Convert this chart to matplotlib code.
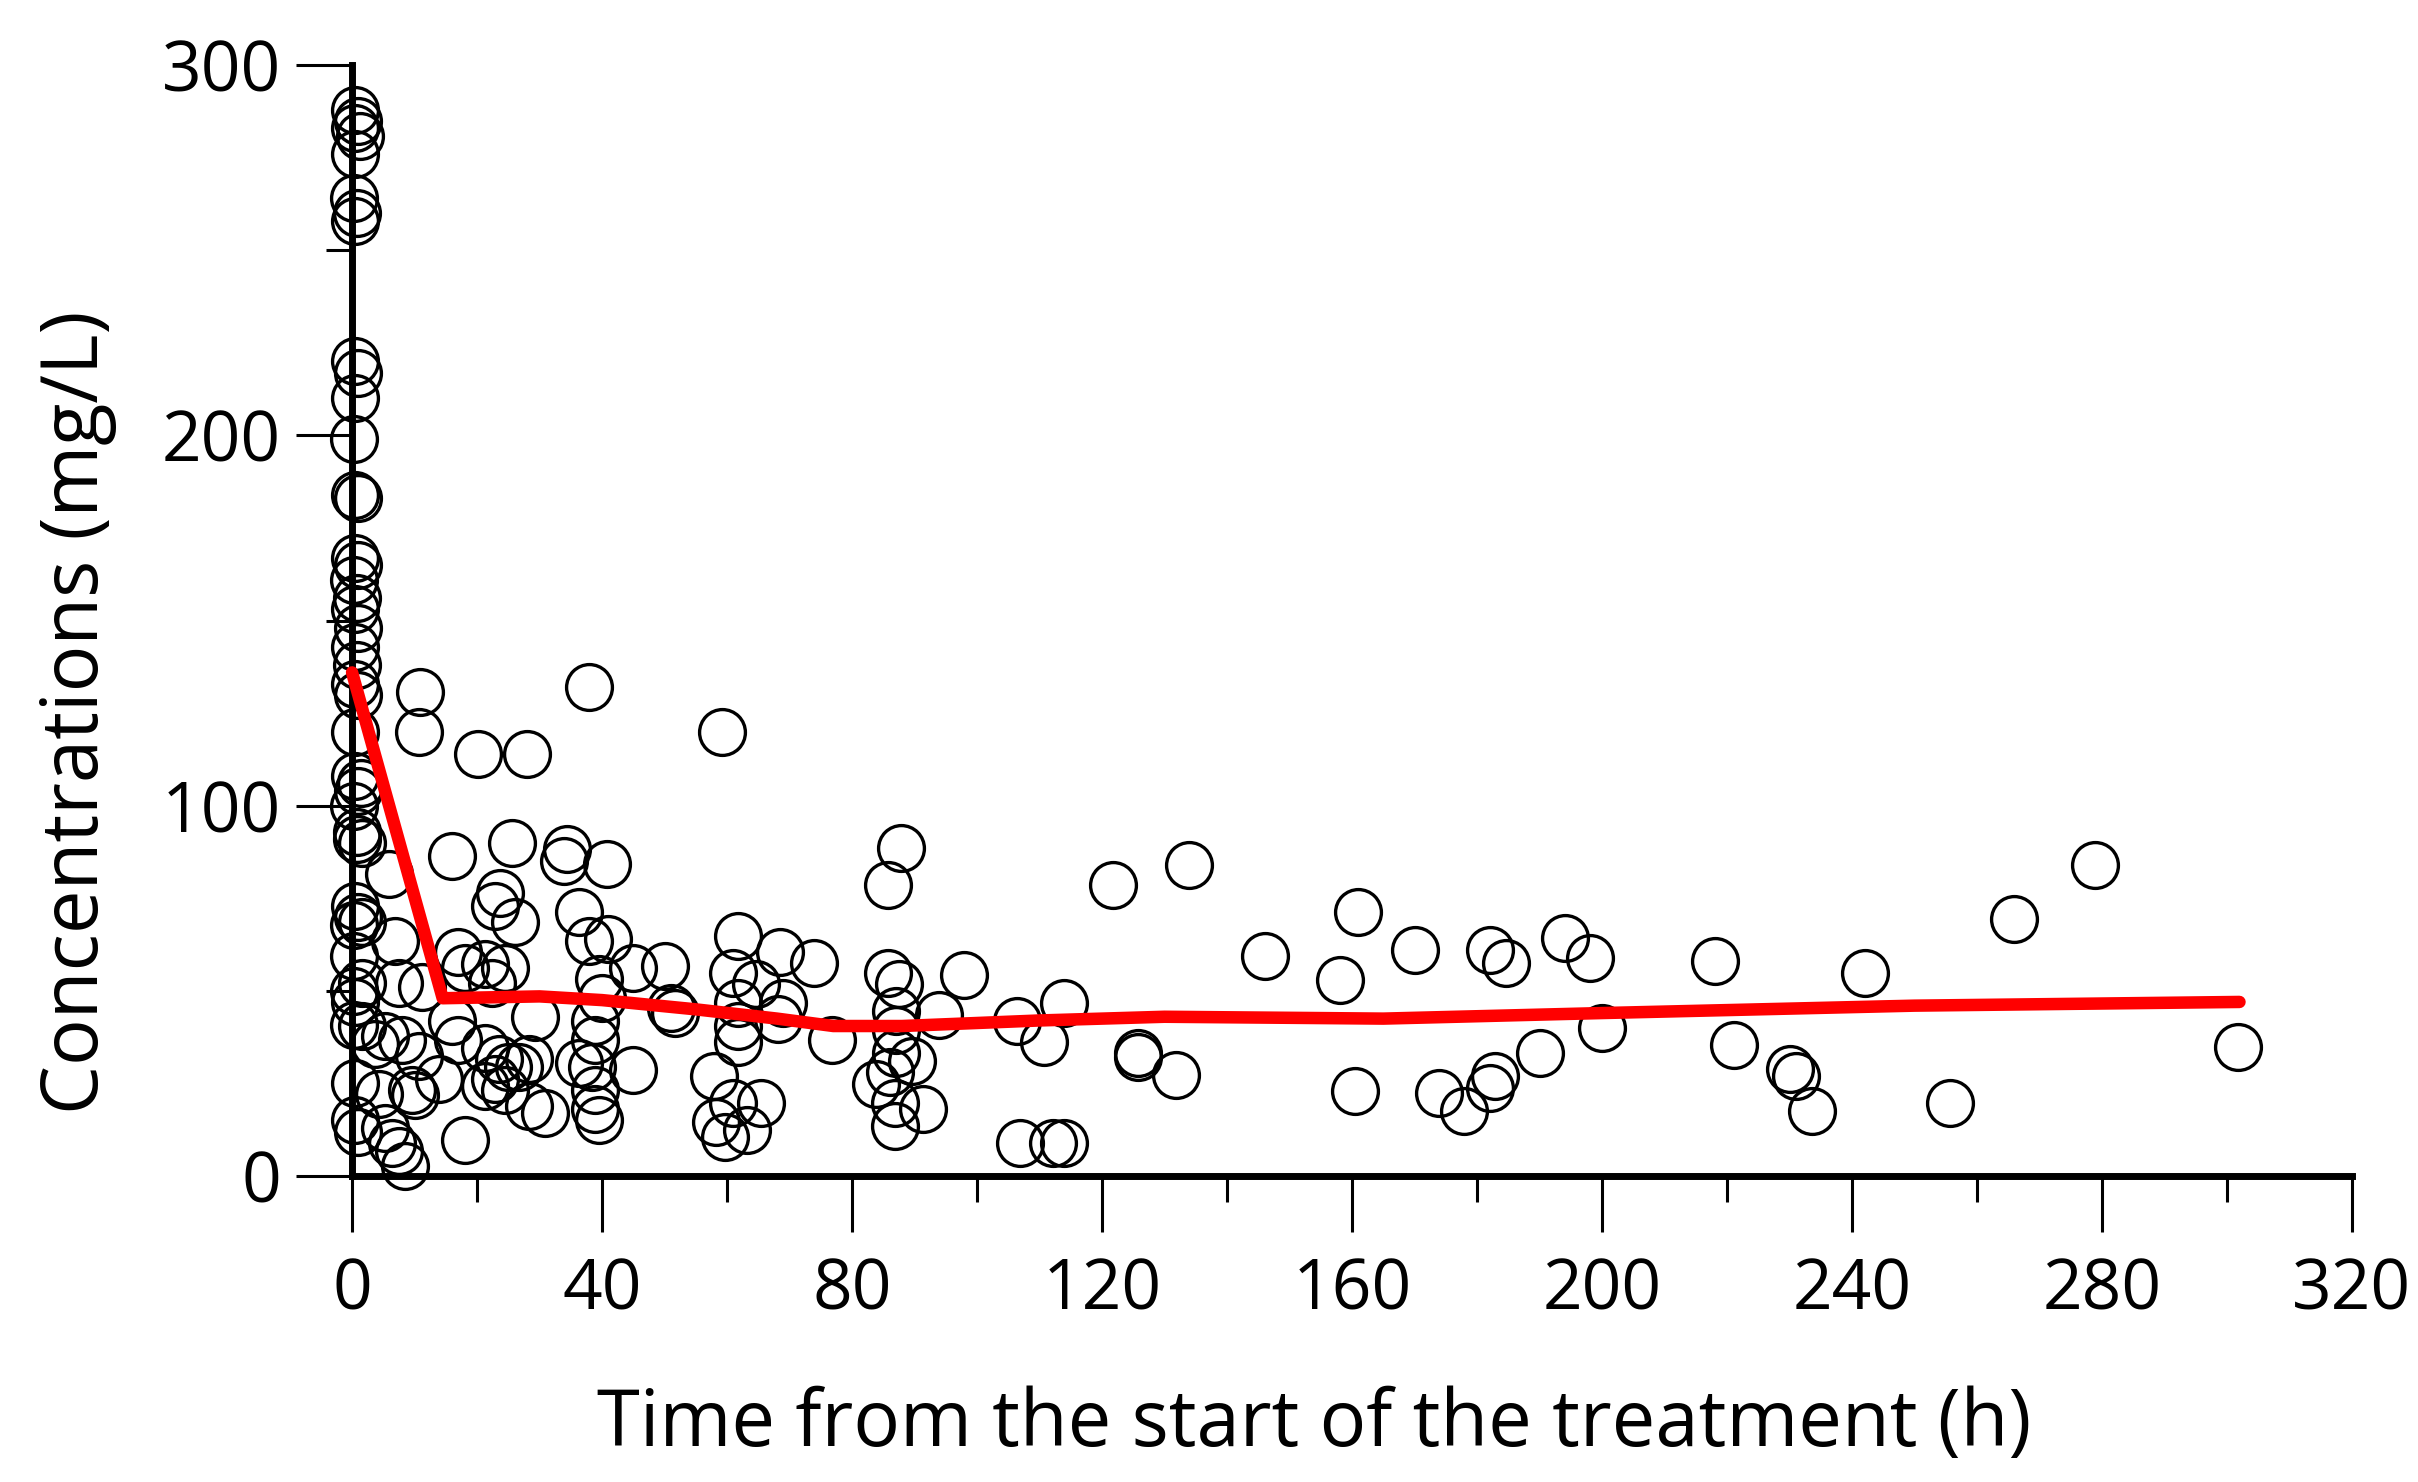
import numpy as np
import matplotlib.pyplot as plt
from matplotlib.ticker import MultipleLocator

plt.rcParams['font.family'] = ['Open Sans', 'DejaVu Sans']

# observed concentrations (time in h, concentration in mg/L)
time_h = [
    0.5, 1.0, 0.5, 1.2, 0.5, 0.3, 0.8, 0.5,
    0.5, 1.0, 0.5, 0.3, 0.5, 1.0,
    0.5, 1.0, 0.3, 0.8, 0.5, 1.0, 0.5, 0.8, 0.5, 1.0,
    0.5, 0.5, 1.5, 1.0, 0.3, 0.8, 0.8, 1.6,
    0.5, 1.0, 1.6, 0.3, 0.3, 1.6, 0.3, 0.5, 0.3, 1.6, 0.5, 0.5, 1.0,
    5.9, 6.9, 7.5, 11.2, 5.3, 8.0, 10.1, 3.7, 4.3, 5.3, 6.4, 7.5, 8.5, 18.1, 10.7, 13.9, 9.6,
    10.9, 10.7, 20.2, 28.0, 37.9, 59.2,
    16.0, 25.6, 34.4, 33.9, 40.8, 36.3, 23.7, 22.9, 26.0, 37.9, 41.0, 45.0, 50.0,
    17.0, 18.0, 21.3, 24.5, 22.4, 39.5, 40.0,
    16.0, 17.0, 21.3, 23.5, 25.0, 22.9, 21.3, 24.5, 26.7, 28.3, 29.3,
    38.9, 38.9, 38.4, 36.3, 38.9, 38.9, 39.5, 30.9, 28.3,
    45.0, 51.1, 51.7,
    61.8, 68.5, 73.9, 61.0, 64.6, 69.0, 61.8, 61.8, 61.8, 68.2, 76.8,
    57.9, 61.0, 65.4, 63.2, 59.6, 58.2,
    87.9, 85.7, 121.8, 133.9, 146.0,
    85.7, 87.5, 97.9, 93.9, 87.1, 87.1, 87.1, 89.6, 86.0, 83.9, 86.8, 91.4, 86.8,
    106.4, 113.9, 110.7, 125.7, 125.7, 131.8,
    106.8, 112.1, 113.9,
    160.9, 158.0, 170.0, 182.0, 184.6, 194.1, 198.1, 218.1, 242.1, 200.0,
    190.0, 182.9, 182.1, 177.9, 173.9, 160.5, 221.1, 230.0, 231.1, 233.6,
    265.9, 278.9, 255.6, 301.8,
]
conc = [
    288, 285, 283, 281, 276, 264, 260, 258,
    220, 217, 210, 199, 184, 183,
    167, 165, 161, 156, 153, 148, 143, 138, 133, 130,
    120, 108, 106, 104, 100, 93, 91, 90,
    73, 70, 68.7, 67.7, 59.4, 52, 50, 47, 40.8, 40.5, 25, 15, 12,
    81.6, 63.5, 52, 51, 37.7, 36.7, 22, 35.6, 22.2, 13, 8.8, 6.7, 2.6, 9.8, 32.5, 26.3, 23.2,
    130.7, 119.8, 114, 114, 132, 119.8,
    86.3, 89.9, 88.3, 85.2, 84.2, 71.3, 76.4, 72.8, 68.7, 63.5, 64, 56.3, 56.6,
    60.4, 56.3, 57.3, 56.3, 52, 53.2, 48,
    41.8, 36.7, 34.6, 31.5, 29.4, 26.3, 24.3, 23.2, 29.4, 31.5, 42.9,
    41.8, 36.7, 29.4, 30.5, 23.2, 18, 15, 17, 19,
    28.7, 45.5, 43.9,
    64.7, 60.6, 57.5, 54.9, 51.8, 46.6, 46.6, 40.4, 36.2, 42.4, 36.7,
    26.9, 19.7, 19.7, 12.4, 10.4, 14.5,
    88.5, 78.7, 78.7, 83.9, 59.5,
    54.9, 51.8, 54.3, 43.5, 44.5, 39.3, 33.1, 31, 28, 24.8, 19.7, 18.1, 13.5,
    41.9, 46.6, 36.2, 33.1, 32, 27.4,
    8.8, 8.8, 8.8,
    71.2, 52.8, 60.9, 60.9, 57.5, 64.2, 58.8, 58, 54.7, 39.9,
    33.3, 26.9, 23.8, 17.6, 22.3, 23, 35.5, 29, 26.9, 17.6,
    69.4, 83.9, 19.7, 34.7,
]

# typical (model) prediction
pred_time = [0, 14.5, 30, 40, 55, 68, 77, 88, 110, 130, 165, 200, 250, 302]
pred_conc = [136, 48, 48.5, 47.5, 45, 42.5, 40.5, 40.5, 42, 43, 42.5, 44, 46, 47]

fig = plt.figure(figsize=(24.18, 14.82), dpi=100)
ax = fig.add_axes([0.1456, 0.2065, 0.8271, 0.7495])

ax.plot(time_h, conc, 'o', ms=33, mfc='none', mec='black', mew=2.4, clip_on=False, zorder=3)
ax.plot(pred_time, pred_conc, '-', color='red', lw=9, solid_capstyle='round',
        solid_joinstyle='round', clip_on=False, zorder=4)

ax.set_xlim(0, 320)
ax.set_ylim(0, 300)

for s in ['top', 'right']:
    ax.spines[s].set_visible(False)
for s in ['left', 'bottom']:
    ax.spines[s].set_linewidth(5)

ax.xaxis.set_major_locator(MultipleLocator(40))
ax.xaxis.set_minor_locator(MultipleLocator(20))
ax.yaxis.set_major_locator(MultipleLocator(100))
ax.yaxis.set_minor_locator(MultipleLocator(50))

ax.tick_params(which='major', direction='out', length=40, width=2.2, labelsize=50)
ax.tick_params(which='minor', direction='out', length=19, width=2.2)
ax.tick_params(axis='x', which='major', pad=18)
ax.tick_params(axis='y', which='major', pad=11)

ax.set_xlabel('Time from the start of the treatment (h)', fontsize=56)
ax.set_ylabel('Concentrations (mg/L)', fontsize=56)
ax.xaxis.set_label_coords(0.481, -0.2250)
ax.xaxis.label.set_va('center')
ax.yaxis.set_label_coords(-0.1375, 0.4176)
ax.yaxis.label.set_va('center')

fig.savefig('out.png', dpi=100)
